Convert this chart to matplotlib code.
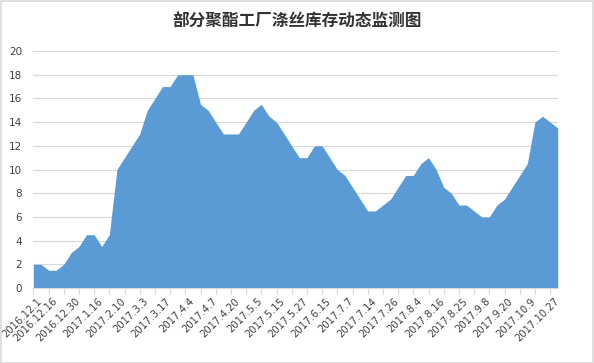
import matplotlib.pyplot as plt
from matplotlib.patches import Rectangle

plt.rcParams['font.family'] = ['Noto Sans CJK SC', 'DejaVu Sans']

# inventory values (days), one every ~5 days
stock = [2, 2, 1.5, 1.5, 2, 3, 3.5, 4.5, 4.5, 3.5,
         4.5, 10, 11, 12, 13, 15, 16, 17, 17, 18,
         18, 18, 15.5, 15, 14, 13, 13, 13, 14, 15,
         15.5, 14.5, 14, 13, 12, 11, 11, 12, 12, 11,
         10, 9.5, 8.5, 7.5, 6.5, 6.5, 7, 7.5, 8.5, 9.5,
         9.5, 10.5, 11, 10, 8.5, 8, 7, 7, 6.5, 6,
         6, 7, 7.5, 8.5, 9.5, 10.5, 14, 14.5, 14, 13.5]

date_labels = ["2016.12.1", "2016.12.16", "2016.12.30", "2017.1.16", "2017.2.10",
               "2017.3.3", "2017.3.17", "2017.4.4", "2017.4.7", "2017.4.20",
               "2017.5.5", "2017.5.15", "2017.5.27", "2017.6.15", "2017.7.7",
               "2017.7.14", "2017.7.26", "2017.8.4", "2017.8.16", "2017.8.25",
               "2017.9.8", "2017.9.20", "2017.10.9", "2017.10.27"]

title = "部分聚酯工厂涤丝库存动态监测图"

W, H = 594, 363
fig = plt.figure(figsize=(W / 100, H / 100), dpi=100)
ax = fig.add_axes([33.3 / W, (H - 288) / H, (557.7 - 33.3) / W, (288 - 51) / H])

x = list(range(len(stock)))
ax.fill_between(x, stock, 0, color="#5B9BD5", linewidth=0, zorder=2)

ax.set_xlim(0, len(stock) - 1)
ax.set_ylim(0, 20)
ax.set_yticks(range(0, 21, 2))
ax.set_yticklabels([str(v) for v in range(0, 21, 2)], fontsize=7.5, color="#404040",
                   family="DejaVu Sans")
ax.tick_params(axis="y", length=0, pad=8)
ax.grid(True, axis="y", color="#D9D9D9", linewidth=0.9, zorder=1)
ax.set_axisbelow(True)

# tick marks every 2 points, labels every 3 points
ax.set_xticks(range(0, len(stock), 2))
ax.set_xticklabels([])
ax.tick_params(axis="x", length=4, color="#D9D9D9", width=0.9, direction="out")
lab_pos = list(range(0, len(stock), 3))
for i, (p, lab) in enumerate(zip(lab_pos, date_labels)):
    dx = 10 if i == 0 else 3
    ax.annotate(lab, xy=(p, 0), xycoords="data", xytext=(dx, -8),
                textcoords="offset pixels", rotation=45, ha="right", va="top",
                fontsize=7.2, color="#404040", family="DejaVu Sans")

for s in ["left", "right", "top"]:
    ax.spines[s].set_visible(False)
ax.spines["bottom"].set_color("#D9D9D9")

fig.text(0.5, (H - 22) / H, title, ha="center", va="center", fontsize=12,
         fontweight="bold", color="#333333")

fig.patches.append(Rectangle((0.5 / W, 0.5 / H), (W - 1.5) / W, (H - 1.5) / H,
                             transform=fig.transFigure, fill=False,
                             edgecolor="#D9D9D9", linewidth=1.2))

fig.savefig("out.png", dpi=100)
